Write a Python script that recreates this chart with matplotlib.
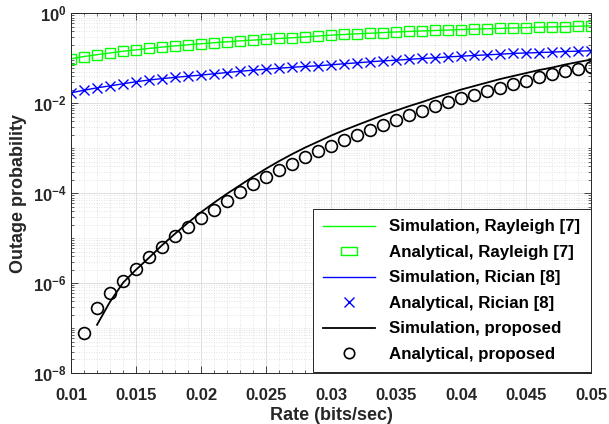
import matplotlib
matplotlib.use("Agg")
import matplotlib.pyplot as plt
from matplotlib.lines import Line2D
from matplotlib.path import Path
from matplotlib.ticker import FixedLocator, FixedFormatter, LogLocator, MultipleLocator, NullFormatter

plt.rcParams['font.family'] = ['Liberation Sans', 'DejaVu Sans']
plt.rcParams['font.weight'] = 'bold'
plt.rcParams['mathtext.fontset'] = 'custom'
plt.rcParams['mathtext.rm'] = 'Liberation Sans:bold'
plt.rcParams['mathtext.bf'] = 'Liberation Sans:bold'
plt.rcParams['mathtext.default'] = 'bf'

# rate grid (bits/sec)
rate = [0.010, 0.011, 0.012, 0.013, 0.014, 0.015, 0.016, 0.017, 0.018, 0.019,
        0.020, 0.021, 0.022, 0.023, 0.024, 0.025, 0.026, 0.027, 0.028, 0.029,
        0.030, 0.031, 0.032, 0.033, 0.034, 0.035, 0.036, 0.037, 0.038, 0.039,
        0.040, 0.041, 0.042, 0.043, 0.044, 0.045, 0.046, 0.047, 0.048, 0.049, 0.050]

rayleigh = [0.098, 0.110, 0.121, 0.132, 0.144, 0.155, 0.167, 0.178, 0.190, 0.201,
            0.212, 0.223, 0.234, 0.245, 0.255, 0.266, 0.277, 0.288, 0.300, 0.315,
            0.329, 0.340, 0.352, 0.363, 0.375, 0.387, 0.398, 0.408, 0.418, 0.428,
            0.438, 0.447, 0.456, 0.465, 0.475, 0.484, 0.493, 0.502, 0.511, 0.520, 0.530]

rician = [0.0171, 0.0196, 0.0221, 0.0245, 0.0272, 0.0303, 0.0330, 0.0355, 0.0378, 0.0402,
          0.0425, 0.0454, 0.0485, 0.0517, 0.0546, 0.0574, 0.0605, 0.0635, 0.0660, 0.0686,
          0.0720, 0.0759, 0.0798, 0.0840, 0.0880, 0.0912, 0.0955, 0.0995, 0.103, 0.108,
          0.112, 0.116, 0.120, 0.124, 0.129, 0.132, 0.135, 0.138, 0.142, 0.145, 0.148]

# proposed scheme, analytical (markers from 0.011)
rate_an = rate[1:]
proposed_an = [7.74e-8, 2.83e-7, 6.02e-7, 1.13e-6, 2.06e-6, 3.81e-6, 6.37e-6, 1.10e-5, 1.77e-5,
               2.82e-5, 4.31e-5, 6.84e-5, 1.05e-4, 1.58e-4, 2.31e-4, 3.24e-4, 4.50e-4, 6.31e-4, 8.57e-4,
               1.15e-3, 1.54e-3, 1.99e-3, 2.61e-3, 3.37e-3, 4.36e-3, 5.55e-3, 6.92e-3, 8.62e-3, 1.08e-2,
               1.30e-2, 1.57e-2, 1.86e-2, 2.25e-2, 2.72e-2, 3.17e-2, 3.76e-2, 4.38e-2, 5.11e-2, 5.66e-2, 6.27e-2]

# proposed scheme, simulation (curve from 0.012)
rate_sim = rate[2:]
proposed_sim = [1.18e-7, 3.85e-7, 1.02e-6, 1.99e-6, 3.68e-6, 6.98e-6, 1.26e-5, 2.21e-5,
                3.79e-5, 6.18e-5, 9.80e-5, 1.51e-4, 2.34e-4, 3.53e-4, 5.19e-4, 7.43e-4, 1.04e-3, 1.41e-3,
                1.92e-3, 2.54e-3, 3.29e-3, 4.25e-3, 5.49e-3, 6.92e-3, 8.71e-3, 1.07e-2, 1.35e-2, 1.65e-2,
                2.03e-2, 2.43e-2, 2.91e-2, 3.48e-2, 4.06e-2, 4.73e-2, 5.52e-2, 6.27e-2, 7.31e-2, 8.32e-2, 9.45e-2]

labels = ['Simulation, Rayleigh [7]', 'Analytical, Rayleigh [7]',
          'Simulation, Rician [8]', 'Analytical, Rician [8]',
          'Simulation, proposed', 'Analytical, proposed']

xticks = [0.01, 0.015, 0.02, 0.025, 0.03, 0.035, 0.04, 0.045, 0.05]
xtick_labels = ['0.01', '0.015', '0.02', '0.025', '0.03', '0.035', '0.04', '0.045', '0.05']
yticks = [1e-8, 1e-6, 1e-4, 1e-2, 1e0]
ytick_labels = ['$10^{-8}$', '$10^{-6}$', '$10^{-4}$', '$10^{-2}$', '$10^{0}$']

fig = plt.figure(figsize=(6.09, 4.24), dpi=100)
ax = fig.add_axes([0.1166, 0.1203, 0.8546, 0.848])

green = (0, 1, 0)
blue = (0, 0, 1)

ax.plot(rate, rayleigh, color=green, lw=1.0)
ax.plot(rate, rayleigh, ls='none', marker='s', ms=7.5, mfc='none', mec=green, mew=1.0)
ax.plot(rate, rician, color=blue, lw=1.0)
ax.plot(rate, rician, ls='none', marker='x', ms=7.5, mec=blue, mew=1.0)
ax.plot(rate_sim, proposed_sim, color='black', lw=1.3)
ax.plot(rate_an, proposed_an, ls='none', marker='o', ms=8.5, mfc='none', mec='black', mew=1.2)

ax.set_yscale('log')
ax.set_xlim(0.01, 0.05)
ax.set_ylim(1e-8, 1e0)

ax.xaxis.set_major_locator(FixedLocator(xticks))
ax.xaxis.set_major_formatter(FixedFormatter(xtick_labels))
ax.xaxis.set_minor_locator(MultipleLocator(0.001))
ax.yaxis.set_major_locator(FixedLocator(yticks))
ax.yaxis.set_major_formatter(FixedFormatter(ytick_labels))
ax.yaxis.set_minor_locator(LogLocator(base=10, subs=range(1, 10), numticks=50))
ax.yaxis.set_minor_formatter(NullFormatter())

ax.tick_params(which='both', direction='in', top=True, right=True, colors='0.15',
               labelcolor='0.15', labelsize=12)
ax.tick_params(which='major', length=5, width=0.6)
ax.tick_params(which='minor', length=2.5, width=0.5)
ax.tick_params(axis='x', which='major', pad=11)
ax.tick_params(axis='y', which='major', pad=3)

ax.grid(True, which='major', color='0.87', lw=0.7, ls='-')
ax.grid(True, which='minor', color='0.85', lw=0.6, ls=(0, (1, 2)))
ax.set_axisbelow(True)
for s in ax.spines.values():
    s.set_color('0.15')
    s.set_linewidth(0.7)

ax.set_xlabel('Rate (bits/sec)', fontsize=13, fontweight='bold', color='0.15', labelpad=3)
ax.set_ylabel('Outage probability', fontsize=13, fontweight='bold', color='0.15', labelpad=4)

# legend proxies; MATLAB draws the square marker stretched in the legend
rect = Path([(-1.0, -0.55), (1.0, -0.55), (1.0, 0.55), (-1.0, 0.55), (-1.0, -0.55)],
            [Path.MOVETO, Path.LINETO, Path.LINETO, Path.LINETO, Path.CLOSEPOLY])
handles = [
    Line2D([], [], color=green, lw=1.0),
    Line2D([], [], ls='none', marker=rect, ms=11, mfc='none', mec=green, mew=1.0),
    Line2D([], [], color=blue, lw=1.0),
    Line2D([], [], ls='none', marker='x', ms=7, mec=blue, mew=1.0),
    Line2D([], [], color='black', lw=1.3),
    Line2D([], [], ls='none', marker='o', ms=7.5, mfc='none', mec='black', mew=1.2),
]
leg = ax.legend(handles, labels, loc='lower right', bbox_to_anchor=(1.0, 0.0), borderaxespad=0.05,
                fontsize=12.2, frameon=True, fancybox=False, edgecolor='0.15',
                handlelength=3.05, handletextpad=0.85, labelspacing=0.62,
                borderpad=0.6)
leg.get_frame().set_linewidth(0.7)
leg.get_frame().set_alpha(1.0)

fig.savefig('out.png', dpi=100)
